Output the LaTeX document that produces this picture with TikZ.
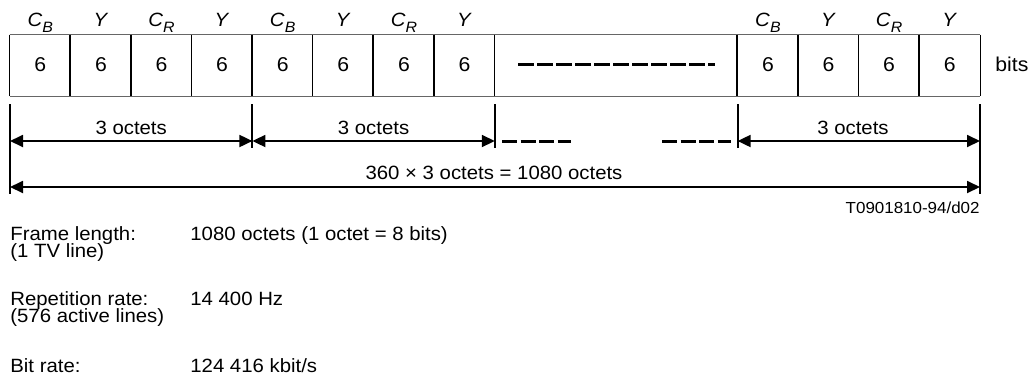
\documentclass[tikz,border=0pt]{standalone}
\usepackage{fontspec}
\setmainfont{Liberation Sans}[FakeStretch=1.06]
\usetikzlibrary{arrows.meta}
\newcommand\cbsym{\textit{C}\raisebox{-0.3em}{\fontsize{7.5}{8}\selectfont\itshape B}}
\newcommand\crsym{\textit{C}\raisebox{-0.3em}{\fontsize{7.5}{8}\selectfont\itshape R}}
\newcommand\ysym{\textit{Y}}
\begin{document}
\begin{tikzpicture}[x=0.5pt,y=-0.5pt,
  txt/.style={inner sep=0pt, font=\fontsize{9.6}{11}\selectfont},
  num/.style={inner sep=0pt, font=\fontsize{10}{12}\selectfont},
  small/.style={inner sep=0pt, font=\fontsize{8}{10}\selectfont},
  cell/.style={minimum width=30.3pt, minimum height=30.5pt, inner sep=0pt},
  frameline/.style={draw=black!60, line width=0.6pt},
  divline/.style={line width=0.75pt},
  tickline/.style={line width=1pt},
  tip/.tip={Triangle[length=6.5pt,width=6pt]},
  dimline/.style={line width=0.9pt, tip-tip},
  dashrow/.style={line width=1.75pt, dash pattern=on 7.75pt off 1.75pt},
  dashdim/.style={line width=1.5pt, dash pattern=on 7.5pt off 1.75pt}
]
\useasboundingbox (0,0) rectangle (1031,376);
% cells
\foreach \i/\x in {1/40.3,2/100.9,3/161.5,4/222.1,5/282.7,6/343.3,7/403.9,8/464.5,9/767.9,10/828.5,11/889.1,12/949.7}
  \node[cell] (c\i) at (\x,65.5) {};
\node[cell, minimum width=121.4pt] (g) at (616.2,65.5) {};
% frame
\draw[frameline] (c1.north west) -- (c12.north east);
\draw[frameline] (c1.south west) -- (c12.south east);
\foreach \n in {c1,c2,c3,c4,c5,c6,c7,c8,g,c9,c10,c11,c12}
  \draw[divline] (\n.north west) -- (\n.south west);
\draw[divline] (c12.north east) -- (c12.south east);
% numbers
\foreach \i/\x in {1/40.3,2/100.9,3/161.5,4/222.1,5/282.7,6/343.3,7/403.9,8/464.5,9/767.9,10/828.5,11/889.1,12/949.7}
  \node[num, anchor=base] (n\i) at (\x,71) {6};
% dashes inside gap
\coordinate (gd1) at (518,64.5);
\coordinate (gd2) at (715,64.5);
\draw[dashrow] (gd1) -- (gd2);
% labels above
\node[txt, anchor=base] (l1) at (40.3,26.7) {\cbsym};
\node[txt, anchor=base] (l2) at (100.9,26.7) {\ysym};
\node[txt, anchor=base] (l3) at (161.5,26.7) {\crsym};
\node[txt, anchor=base] (l4) at (222.1,26.7) {\ysym};
\node[txt, anchor=base] (l5) at (282.7,26.7) {\cbsym};
\node[txt, anchor=base] (l6) at (343.3,26.7) {\ysym};
\node[txt, anchor=base] (l7) at (403.9,26.7) {\crsym};
\node[txt, anchor=base] (l8) at (464.5,26.7) {\ysym};
\node[txt, anchor=base] (l9) at (767.9,26.7) {\cbsym};
\node[txt, anchor=base] (l10) at (828.5,26.7) {\ysym};
\node[txt, anchor=base] (l11) at (889.1,26.7) {\crsym};
\node[txt, anchor=base] (l12) at (949.7,26.7) {\ysym};
\node[num, anchor=base west] (bits) at (995,71) {bits};
% tick lines
\coordinate (k0a) at (10,104);    \coordinate (k0b) at (10,194);
\coordinate (k1a) at (252.4,104); \coordinate (k1b) at (252.4,148);
\coordinate (k2a) at (494.8,104); \coordinate (k2b) at (494.8,148);
\coordinate (k3a) at (737.6,104); \coordinate (k3b) at (737.6,148);
\coordinate (k4a) at (980,104);   \coordinate (k4b) at (980,194);
\foreach \k in {0,1,2,3,4} \draw[tickline] (k\k a) -- (k\k b);
% dimension arrows
\coordinate (a0) at (10,141);
\coordinate (a1) at (252.4,141);
\coordinate (a2) at (494.8,141);
\coordinate (a3) at (737.6,141);
\coordinate (a4) at (980,141);
\coordinate (b0) at (10,187);
\coordinate (b4) at (980,187);
\draw[dimline] (a0) -- (a1);
\draw[dimline] (a1) -- (a2);
\draw[dimline] (a3) -- (a4);
\draw[dimline] (b0) -- (b4);
\coordinate (d1) at (502,141); \coordinate (d2) at (571,141);
\coordinate (d3) at (662,141); \coordinate (d4) at (731,141);
\draw[dashdim] (d1) -- (d2);
\draw[dashdim] (d3) -- (d4);
\node[txt, anchor=base] (o1) at (131.2,134) {3 octets};
\node[txt, anchor=base] (o2) at (373.6,134) {3 octets};
\node[txt, anchor=base] (o3) at (853,134) {3 octets};
\node[txt, anchor=base] (tot) at (494,179) {360 × 3 octets = 1080 octets};
\node[small, anchor=base east] (ref) at (980,213) {T0901810-94/d02};
% bottom text
\node[txt, anchor=base west] (f1) at (10,240.7) {Frame length:};
\node[txt, anchor=base west] (f2) at (10,257.3) {(1 TV line)};
\node[txt, anchor=base west] (f3) at (190,240.7) {1080 octets (1 octet = 8 bits)};
\node[txt, anchor=base west] (r1) at (10,305.7) {Repetition rate:};
\node[txt, anchor=base west] (r2) at (10,322.5) {(576 active lines)};
\node[txt, anchor=base west] (r3) at (190,305.7) {14 400 Hz};
\node[txt, anchor=base west] (b1) at (10,372.7) {Bit rate:};
\node[txt, anchor=base west] (b2) at (190,372.7) {124 416 kbit/s};
\end{tikzpicture}
\end{document}
